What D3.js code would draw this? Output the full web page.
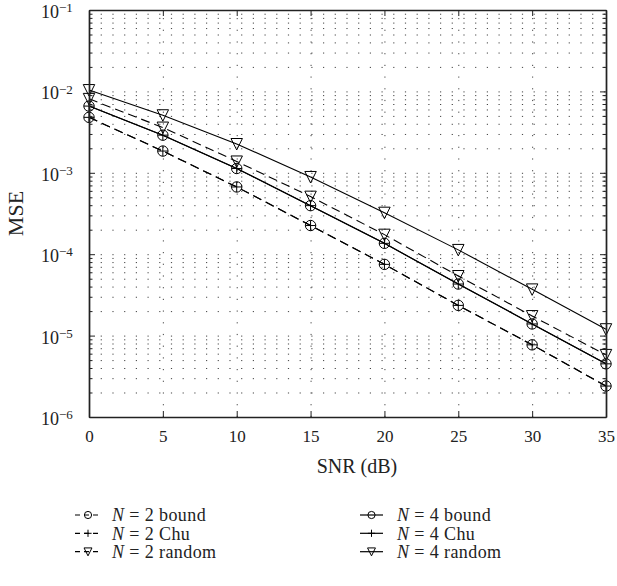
<!DOCTYPE html>
<html>
<head>
<meta charset="utf-8">
<script src="https://cdn.jsdelivr.net/npm/d3@7"></script>
<style>
  body { margin: 0; background: #fff; }
  svg, svg text { font-family: "Liberation Serif", "Times New Roman", Times, serif; }
  .axis path, .axis line { stroke: #222; }
  .axis text { fill: #222; font-size: 17px; }
  .grid line { stroke: #444; stroke-width: 1; stroke-dasharray: 1.2,10.5; }
  .series { fill: none; stroke: #000; stroke-width: 1.1; }
  .marker { fill: none; stroke: #000; stroke-width: 1; }
</style>
</head>
<body>
<script>
// SNR values (dB) on the x axis
var snr = [0, 5, 10, 15, 20, 25, 30, 35];

// MSE values
var n2Bound  = [4.8e-3, 1.85e-3, 6.7e-4, 2.25e-4, 7.5e-5, 2.35e-5, 7.7e-6, 2.4e-6];
var n2Chu    = [4.8e-3, 1.85e-3, 6.7e-4, 2.25e-4, 7.5e-5, 2.35e-5, 7.7e-6, 2.4e-6];
var n2Random = [8.1e-3, 3.6e-3, 1.38e-3, 5.1e-4, 1.74e-4, 5.4e-5, 1.74e-5, 5.8e-6];
var n4Bound  = [6.6e-3, 2.9e-3, 1.13e-3, 3.95e-4, 1.36e-4, 4.3e-5, 1.39e-5, 4.5e-6];
var n4Chu    = [6.6e-3, 2.9e-3, 1.13e-3, 3.95e-4, 1.36e-4, 4.3e-5, 1.39e-5, 4.5e-6];
var n4Random = [1.04e-2, 5.1e-3, 2.26e-3, 8.9e-4, 3.24e-4, 1.13e-4, 3.7e-5, 1.2e-5];

// tick labels
var xTicks = [0, 5, 10, 15, 20, 25, 30, 35];
var yExponents = [-1, -2, -3, -4, -5, -6];

var seriesNames = ["2 bound", "2 Chu", "2 random", "4 bound", "4 Chu", "4 random"];

var canvas = {w: 617, h: 586},
    margin = {top: 10, right: 10, bottom: 169, left: 89},
    width = canvas.w - margin.left - margin.right,
    height = canvas.h - margin.top - margin.bottom;

var svg = d3.select("body").append("svg")
    .attr("width", canvas.w)
    .attr("height", canvas.h);

var g = svg.append("g")
    .attr("transform", "translate(" + margin.left + "," + margin.top + ")");

var x = d3.scaleLinear().domain([0, 35]).range([0, width - 1]),
    y = d3.scaleLog().domain([1e-6, 1e-1]).range([height, 0]);

var yMajors = yExponents.map(function(e) { return Math.pow(10, e); });
// minor decade values 2..9 x 10^k
var yMinors = [];
yExponents.slice(1).forEach(function(e) {
    for (var m = 2; m <= 9; m++) yMinors.push(m * Math.pow(10, e));
});

// dotted grid
g.append("g").attr("class", "grid")
    .call(d3.axisLeft(y).tickValues(yMajors.concat(yMinors)).tickSize(-width).tickFormat(""))
    .call(function(s) { s.select(".domain").remove(); });
g.append("g").attr("class", "grid")
    .attr("transform", "translate(0," + height + ")")
    .call(d3.axisBottom(x).tickValues(xTicks).tickSize(-height).tickFormat(""))
    .call(function(s) { s.select(".domain").remove(); });

// series definitions
var series = [
    {label: seriesNames[0], values: n2Bound,  dash: "9,5", marker: "circle"},
    {label: seriesNames[1], values: n2Chu,    dash: "9,5", marker: "plus"},
    {label: seriesNames[2], values: n2Random, dash: "9,5", marker: "triangle"},
    {label: seriesNames[3], values: n4Bound,  dash: null,  marker: "circle"},
    {label: seriesNames[4], values: n4Chu,    dash: null,  marker: "plus"},
    {label: seriesNames[5], values: n4Random, dash: null,  marker: "triangle"}
];

function markerPath(type, r) {
    if (type === "circle") {
        var p = d3.path(); p.arc(0, 0, r, 0, 2 * Math.PI); return p.toString();
    }
    if (type === "plus") {
        return "M" + (-r) + ",0H" + r + "M0," + (-r) + "V" + r;
    }
    // downward triangle
    var h = r * 1.05;
    return "M" + (-r * 1.1) + "," + (-h) + "L" + (r * 1.1) + "," + (-h) + "L0," + (h * 1.1) + "Z";
}

var line = d3.line()
    .x(function(d) { return x(d.snr); })
    .y(function(d) { return y(d.mse); });

series.forEach(function(s) {
    var pts = snr.map(function(v, i) { return {snr: v, mse: s.values[i]}; });
    g.append("path")
        .attr("class", "series")
        .attr("d", line(pts))
        .attr("stroke-dasharray", s.dash);
    g.selectAll(null)
        .data(pts)
        .enter().append("path")
        .attr("class", "marker")
        .attr("transform", function(d) { return "translate(" + x(d.snr) + "," + y(d.mse) + ")"; })
        .attr("d", markerPath(s.marker, 5.2));
});

// axes with inward ticks on all sides
function styleAxis(sel) {
    sel.attr("class", "axis").attr("font-family", null);
    sel.select(".domain").attr("stroke-width", 1.4);
}

g.append("g").call(d3.axisTop(x).tickValues(xTicks).tickSizeInner(-6).tickSizeOuter(0).tickFormat(""))
    .call(styleAxis);
g.append("g").attr("transform", "translate(" + (width - 1) + ",0)")
    .call(d3.axisRight(y).tickValues(yMajors).tickSizeInner(-6).tickSizeOuter(0).tickFormat(""))
    .call(styleAxis);
g.append("g").attr("transform", "translate(" + (width - 1) + ",0)")
    .call(d3.axisRight(y).tickValues(yMinors).tickSizeInner(-3.5).tickSizeOuter(0).tickFormat(""))
    .call(styleAxis);
g.append("g")
    .call(d3.axisLeft(y).tickValues(yMinors).tickSizeInner(-3.5).tickSizeOuter(0).tickFormat(""))
    .call(styleAxis);

g.append("g")
    .attr("transform", "translate(0," + height + ")")
    .call(d3.axisBottom(x).tickValues(xTicks).tickSizeInner(-6).tickSizeOuter(0).tickPadding(13))
    .call(styleAxis);

var yAxis = g.append("g")
    .call(d3.axisLeft(y).tickValues(yMajors).tickSizeInner(-6).tickSizeOuter(0).tickPadding(27))
    .call(styleAxis);

// power-of-ten labels with superscript exponents
yAxis.selectAll(".tick text")
    .text(null)
    .attr("text-anchor", "start")
    .attr("x", -48)
    .attr("dy", "0.42em")
    .style("font-size", "18px")
    .each(function(d) {
        var t = d3.select(this);
        t.append("tspan").text("10");
        t.append("tspan")
            .attr("dy", "-0.45em")
            .style("font-size", "13px")
            .text("\u2212" + Math.round(-Math.log10(d)));
    });

// axis titles
svg.append("text")
    .attr("x", margin.left + width / 2 + 9)
    .attr("y", 473)
    .attr("text-anchor", "middle")
    .style("font-size", "20px")
    .attr("fill", "#222")
    .text("SNR (dB)");

svg.append("text")
    .attr("transform", "translate(23," + (margin.top + height / 2) + ") rotate(-90)")
    .attr("text-anchor", "middle")
    .style("font-size", "22px")
    .attr("fill", "#222")
    .text("MSE");

// legend: two columns of three rows
var legendCols = [
    {x0: 75, x1: 101, tx: 112},
    {x0: 360, x1: 383, tx: 397}
];
var rowY = [515, 533.3, 551.7];

series.forEach(function(s, i) {
    var col = legendCols[Math.floor(i / 3)],
        ry = rowY[i % 3],
        lg = svg.append("g");
    lg.append("line")
        .attr("x1", col.x0).attr("x2", col.x1)
        .attr("y1", ry).attr("y2", ry)
        .attr("stroke", "#000")
        .attr("stroke-width", 1.2)
        .attr("stroke-dasharray", s.dash ? "5,4" : null);
    lg.append("path")
        .attr("class", "marker")
        .attr("transform", "translate(" + ((col.x0 + col.x1) / 2) + "," + ry + ")")
        .attr("d", markerPath(s.marker, 3.6));
    var t = lg.append("text")
        .attr("x", col.tx)
        .attr("y", ry + 6.2)
        .style("font-size", "18px")
        .style("letter-spacing", "0.4px")
        .attr("fill", "#222");
    t.append("tspan").style("font-style", "italic").text("N");
    t.append("tspan").text(" = " + s.label);
});
</script>
</body>
</html>
